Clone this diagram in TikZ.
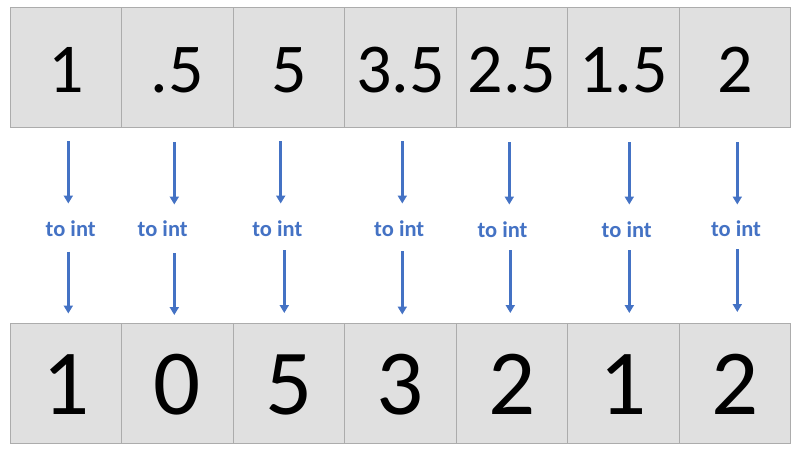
\documentclass[tikz,border=0pt]{standalone}
\usepackage{fontspec}
\setmainfont{Carlito}
\usetikzlibrary{arrows.meta}
\definecolor{cellfill}{RGB}{224,224,224}
\definecolor{cellline}{RGB}{172,172,172}
\definecolor{arrblue}{RGB}{68,114,196}
\begin{document}
\begin{tikzpicture}[x=1pt,y=-1pt,
  cell/.style={draw=cellline,fill=cellfill,line width=1.2pt,minimum width=111.49pt,minimum height=120pt,inner sep=0pt,anchor=center},
  topcell/.style={cell,font=\fontsize{70}{70}\selectfont,text height=49.4pt,text depth=0pt},
  botcell/.style={cell,font=\fontsize{93}{93}\selectfont,text height=61.4pt,text depth=0pt},
  lbl/.style={text=arrblue,font=\fontsize{22.5}{23}\selectfont\bfseries,anchor=base,inner sep=0pt},
  arr/.style={draw=arrblue,line width=2.6pt,-{Triangle[width=9pt,length=8pt]}}]
\useasboundingbox (0,0) rectangle (800,451);
% top row
\foreach \i/\v in {1/1,2/.5,3/5,4/3.5,5/2.5,6/1.5,7/2}{
  \node[topcell] (t\i) at ({10.3+111.486*(\i-0.5)},67.3) {\v};
}
% bottom row
\foreach \i/\v in {1/1,2/0,3/5,4/3,5/2,6/1,7/2}{
  \node[botcell] (b\i) at ({10.3+111.486*(\i-0.5)},383.3) {\v};
}
% labels and arrows
\foreach \i/\lx/\ly/\ax/\as/\ae/\bx/\bs/\be in {
  1/70.7/236/68.3/141/203.5/68.3/251.5/313.5,
  2/162.7/236/174.3/142/204.5/174.3/253/315,
  3/277.3/236/280.7/141/203.5/284.3/250/313,
  4/399.2/236/402.3/141/203.5/402.3/251/314.5,
  5/502.5/237/509.3/142/204.5/510.3/250/313,
  6/626.7/237/629.3/142/204.5/629.3/250/313,
  7/736/236/737.3/142/204.5/737.3/249/312}{
  \node[lbl] (l\i) at (\lx,\ly) {to int};
  \coordinate (as\i) at (\ax,\as);
  \coordinate (ae\i) at (\ax,\ae);
  \coordinate (bs\i) at (\bx,\bs);
  \coordinate (be\i) at (\bx,\be);
  \draw[arr] (as\i) -- (ae\i);
  \draw[arr] (bs\i) -- (be\i);
}
\end{tikzpicture}
\end{document}
